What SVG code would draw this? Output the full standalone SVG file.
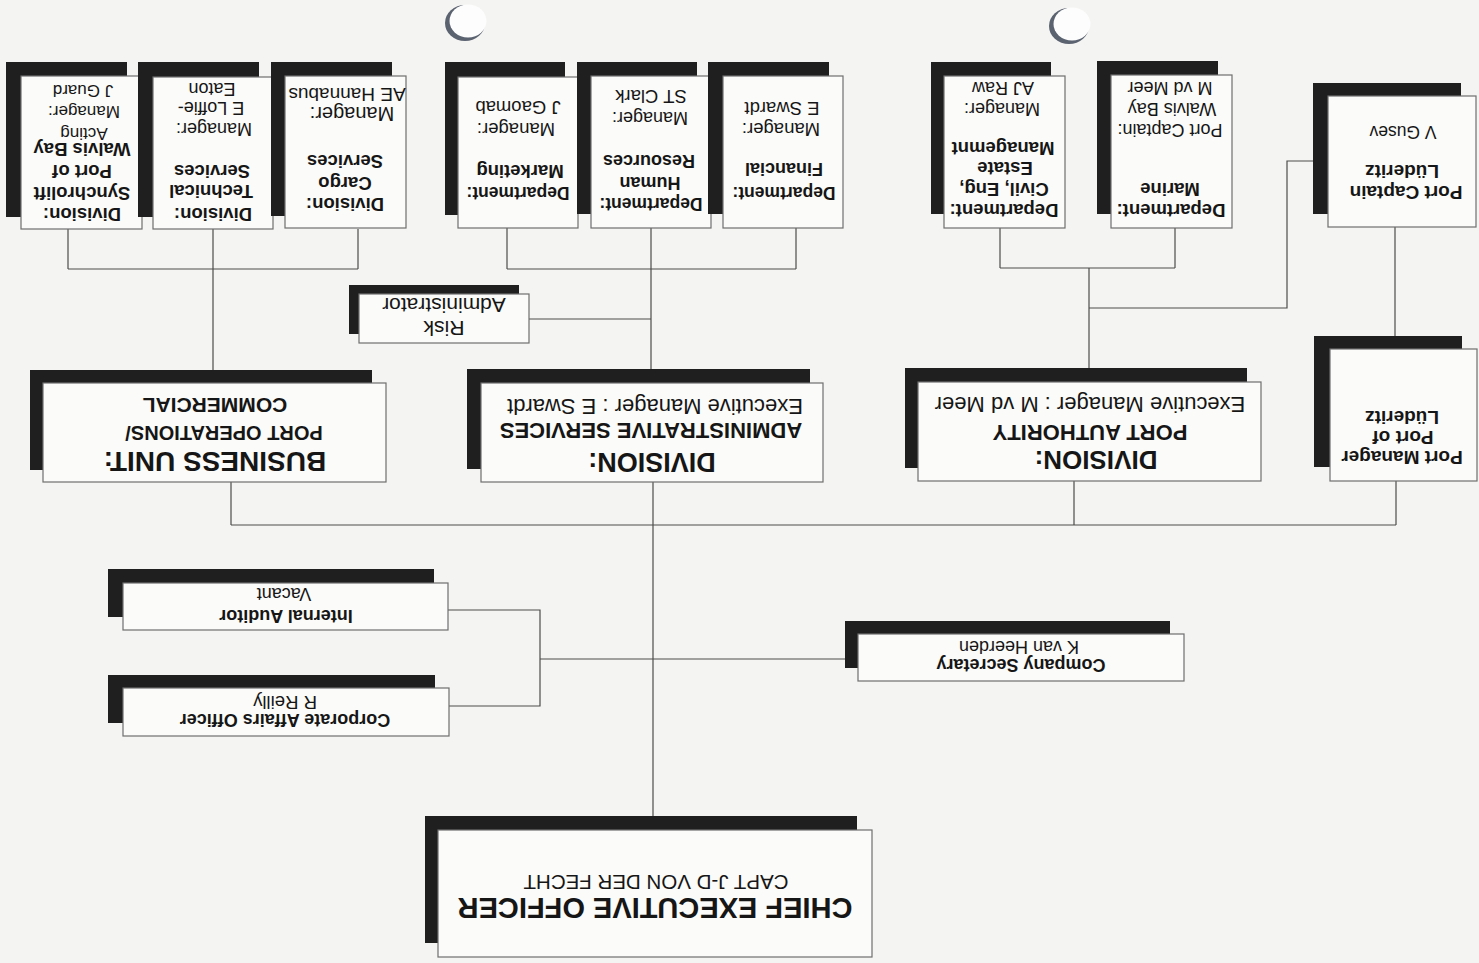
<svg xmlns="http://www.w3.org/2000/svg" width="1479" height="963" viewBox="0 0 1479 963">
<style>
.bg{fill:#f4f4f2}
.sh{fill:#1f1f1f}
.bx{fill:#fbfbf9;stroke:#6e6e6e;stroke-width:1.2}
.ln{stroke:#4c4c4c;stroke-width:1.2;fill:none}
text{font-family:"Liberation Sans",Arial,Helvetica,sans-serif;fill:#161616;text-anchor:middle}
.b{font-weight:bold}
.hole{fill:#5b6270}
.holew{fill:#fdfdfd}
</style>
<rect class="bg" x="0" y="0" width="1479" height="963"/>
<g id="punch-holes">
<ellipse class="hole" cx="465" cy="23" rx="20" ry="18"/>
<ellipse class="holew" cx="468" cy="21" rx="18.5" ry="16.5"/>
<ellipse class="hole" cx="1069" cy="26" rx="20" ry="18"/>
<ellipse class="holew" cx="1072" cy="24" rx="18.5" ry="16.5"/>
</g>
<g id="connectors">
<path class="ln" d="M68,229 V269 M358,229 V269 M68,269 H358 M213,229 V370"/>
<path class="ln" d="M507,228 V269 M796,228 V269 M507,269 H796 M651,228 V369 M529,319 H651"/>
<path class="ln" d="M1000,228 V268 M1175,228 V268 M1000,268 H1175 M1089,268 V368 M1089,308 H1287 V161 H1313"/>
<path class="ln" d="M1395,227 V336"/>
<path class="ln" d="M231,482 V525 M1074,481 V525 M1396,481 V525 M231,525 H1396"/>
<path class="ln" d="M653,482 V816"/>
<path class="ln" d="M448,610 H540 V706 H449 M540,659 H858"/>
</g>
<g id="ceo">
<rect class="sh" x="425" y="816" width="432" height="127"/>
<rect class="bx" x="438" y="830" width="434" height="127"/>
<text class="b" x="655" y="898" font-size="29" transform="rotate(180 655 898)">CHIEF EXECUTIVE OFFICER</text>
<text x="656" y="875" font-size="20.5" transform="rotate(180 656 875)">CAPT J-D VON DER FECHT</text>
</g>
<g id="company-secretary">
<rect class="sh" x="845" y="621" width="325" height="47"/>
<rect class="bx" x="858" y="634" width="326" height="47"/>
<text class="b" x="1021" y="659" font-size="18" transform="rotate(180 1021 659)">Company Secretary</text>
<text x="1019" y="641" font-size="18" transform="rotate(180 1019 641)">K van Heerden</text>
</g>
<g id="internal-auditor">
<rect class="sh" x="108" y="569" width="326" height="48"/>
<rect class="bx" x="123" y="583" width="325" height="47"/>
<text class="b" x="286" y="610" font-size="18" transform="rotate(180 286 610)">Internal Auditor</text>
<text x="284" y="588" font-size="18" transform="rotate(180 284 588)">Vacant</text>
</g>
<g id="corporate-affairs">
<rect class="sh" x="108" y="675" width="327" height="48"/>
<rect class="bx" x="123" y="688" width="326" height="48"/>
<text class="b" x="285" y="714" font-size="18" transform="rotate(180 285 714)">Corporate Affairs Officer</text>
<text x="285" y="696" font-size="18.5" transform="rotate(180 285 696)">R Reilly</text>
</g>
<g id="business-unit">
<rect class="sh" x="30" y="370" width="342" height="100"/>
<rect class="bx" x="43" y="383" width="343" height="99"/>
<text class="b" x="215" y="452" font-size="28" transform="rotate(180 215 452)">BUSINESS UNIT:</text>
<text class="b" x="224" y="426" font-size="20" transform="rotate(180 224 426)">PORT OPERATIONS/</text>
<text class="b" x="215" y="398" font-size="21" transform="rotate(180 215 398)">COMMERCIAL</text>
</g>
<g id="admin-services">
<rect class="sh" x="467" y="369" width="343" height="100"/>
<rect class="bx" x="481" y="383" width="342" height="99"/>
<text class="b" x="652" y="453" font-size="27" transform="rotate(180 652 453)">DIVISION:</text>
<text class="b" x="651" y="423" font-size="22" transform="rotate(180 651 423)">ADMINISTRATIVE SERVICES</text>
<text x="655" y="399" font-size="22" transform="rotate(180 655 399)">Executive Manager : E Swardt</text>
</g>
<g id="port-authority">
<rect class="sh" x="905" y="368" width="342" height="100"/>
<rect class="bx" x="918" y="382" width="343" height="99"/>
<text class="b" x="1096" y="451" font-size="26" transform="rotate(180 1096 451)">DIVISION:</text>
<text class="b" x="1090" y="425" font-size="22" transform="rotate(180 1090 425)">PORT AUTHORITY</text>
<text x="1090" y="397" font-size="22" transform="rotate(180 1090 397)">Executive Manager : M vd Meer</text>
</g>
<g id="port-manager-luderitz">
<rect class="sh" x="1314" y="336" width="148" height="131"/>
<rect class="bx" x="1330" y="349" width="147" height="132"/>
<text class="b" x="1402" y="451" font-size="19" transform="rotate(180 1402 451)">Port Manager</text>
<text class="b" x="1403" y="431" font-size="19" transform="rotate(180 1403 431)">Port of</text>
<text class="b" x="1402" y="411" font-size="19" transform="rotate(180 1402 411)">Lüderitz</text>
</g>
<g id="risk-administrator">
<rect class="sh" x="349" y="285" width="170" height="49"/>
<rect class="bx" x="359" y="294" width="170" height="49"/>
<text x="444" y="321" font-size="21" transform="rotate(180 444 321)">Risk</text>
<text x="444" y="298" font-size="21" transform="rotate(180 444 298)">Administrator</text>
</g>
<g id="synchrolift">
<rect class="sh" x="6" y="62" width="121" height="155"/>
<rect class="bx" x="21" y="76" width="121" height="153"/>
<text class="b" x="82" y="208" font-size="18.5" transform="rotate(180 82 208)">Division:</text>
<text class="b" x="82" y="187" font-size="18.5" transform="rotate(180 82 187)">Synchrolift</text>
<text class="b" x="82" y="165" font-size="18.5" transform="rotate(180 82 165)">Port of</text>
<text class="b" x="82" y="143" font-size="18.5" transform="rotate(180 82 143)">Walvis Bay</text>
<text x="84" y="128" font-size="17" transform="rotate(180 84 128)">Acting</text>
<text x="84" y="106" font-size="17" transform="rotate(180 84 106)">Manager:</text>
<text x="83" y="85" font-size="17" transform="rotate(180 83 85)">J Guard</text>
</g>
<g id="technical-services">
<rect class="sh" x="138" y="62" width="121" height="155"/>
<rect class="bx" x="153" y="77" width="120" height="152"/>
<text class="b" x="213" y="208" font-size="18.5" transform="rotate(180 213 208)">Division:</text>
<text class="b" x="211" y="185" font-size="18.5" transform="rotate(180 211 185)">Technical</text>
<text class="b" x="212" y="165" font-size="18.5" transform="rotate(180 212 165)">Services</text>
<text x="214" y="123" font-size="18" transform="rotate(180 214 123)">Manager:</text>
<text x="211" y="102" font-size="18" transform="rotate(180 211 102)">E Loffie-</text>
<text x="212" y="83" font-size="18" transform="rotate(180 212 83)">Eaton</text>
</g>
<g id="cargo-services">
<rect class="sh" x="271" y="62" width="121" height="154"/>
<rect class="bx" x="285" y="76" width="121" height="152"/>
<text class="b" x="345" y="198" font-size="18.5" transform="rotate(180 345 198)">Division:</text>
<text class="b" x="345" y="177" font-size="18.5" transform="rotate(180 345 177)">Cargo</text>
<text class="b" x="345" y="155" font-size="18.5" transform="rotate(180 345 155)">Services</text>
<text x="352" y="107" font-size="20" transform="rotate(180 352 107)">Manager:</text>
<text x="347" y="88" font-size="19" transform="rotate(180 347 88)">AE Hannabus</text>
</g>
<g id="marketing">
<rect class="sh" x="445" y="62" width="120" height="153"/>
<rect class="bx" x="458" y="77" width="120" height="151"/>
<text class="b" x="518" y="187" font-size="17.5" transform="rotate(180 518 187)">Department:</text>
<text class="b" x="520" y="165" font-size="18.5" transform="rotate(180 520 165)">Marketing</text>
<text x="516" y="123" font-size="18.5" transform="rotate(180 516 123)">Manager:</text>
<text x="518" y="101" font-size="18.5" transform="rotate(180 518 101)">J Gaomab</text>
</g>
<g id="human-resources">
<rect class="sh" x="577" y="62" width="120" height="152"/>
<rect class="bx" x="591" y="76" width="120" height="152"/>
<text class="b" x="651" y="198" font-size="17.5" transform="rotate(180 651 198)">Department:</text>
<text class="b" x="650" y="177" font-size="18" transform="rotate(180 650 177)">Human</text>
<text class="b" x="649" y="155" font-size="18" transform="rotate(180 649 155)">Resources</text>
<text x="650" y="112" font-size="18" transform="rotate(180 650 112)">Manager:</text>
<text x="651" y="90" font-size="18.5" transform="rotate(180 651 90)">ST Clark</text>
</g>
<g id="financial">
<rect class="sh" x="708" y="62" width="121" height="152"/>
<rect class="bx" x="723" y="76" width="120" height="152"/>
<text class="b" x="784" y="187" font-size="17.5" transform="rotate(180 784 187)">Department:</text>
<text class="b" x="784" y="163" font-size="18" transform="rotate(180 784 163)">Financial</text>
<text x="781" y="123" font-size="18.5" transform="rotate(180 781 123)">Manager:</text>
<text x="782" y="102" font-size="18.5" transform="rotate(180 782 102)">E Swardt</text>
</g>
<g id="civil-eng-estate">
<rect class="sh" x="931" y="62" width="120" height="152"/>
<rect class="bx" x="944" y="76" width="121" height="152"/>
<text class="b" x="1004" y="204" font-size="18.5" transform="rotate(180 1004 204)">Department:</text>
<text class="b" x="1004" y="183" font-size="18.5" transform="rotate(180 1004 183)">Civil, Eng,</text>
<text class="b" x="1005" y="162" font-size="18.5" transform="rotate(180 1005 162)">Estate</text>
<text class="b" x="1003" y="142" font-size="18.5" transform="rotate(180 1003 142)">Managemnt</text>
<text x="1002" y="103" font-size="18" transform="rotate(180 1002 103)">Manager:</text>
<text x="1003" y="82" font-size="18" transform="rotate(180 1003 82)">AJ Raw</text>
</g>
<g id="marine">
<rect class="sh" x="1097" y="61" width="121" height="153"/>
<rect class="bx" x="1111" y="75" width="121" height="153"/>
<text class="b" x="1171" y="204" font-size="18.5" transform="rotate(180 1171 204)">Department:</text>
<text class="b" x="1170" y="183" font-size="18.5" transform="rotate(180 1170 183)">Marine</text>
<text x="1170" y="124" font-size="18" transform="rotate(180 1170 124)">Port Captain:</text>
<text x="1172" y="103" font-size="18" transform="rotate(180 1172 103)">Walvis Bay</text>
<text x="1170" y="82" font-size="18" transform="rotate(180 1170 82)">M vd Meer</text>
</g>
<g id="port-captain-luderitz">
<rect class="sh" x="1313" y="83" width="148" height="131"/>
<rect class="bx" x="1328" y="96" width="148" height="131"/>
<text class="b" x="1406" y="186" font-size="19" transform="rotate(180 1406 186)">Port Captain</text>
<text class="b" x="1402" y="165" font-size="19" transform="rotate(180 1402 165)">Lüderitz</text>
<text x="1403" y="126" font-size="17.5" transform="rotate(180 1403 126)">V Gusev</text>
</g>
</svg>
